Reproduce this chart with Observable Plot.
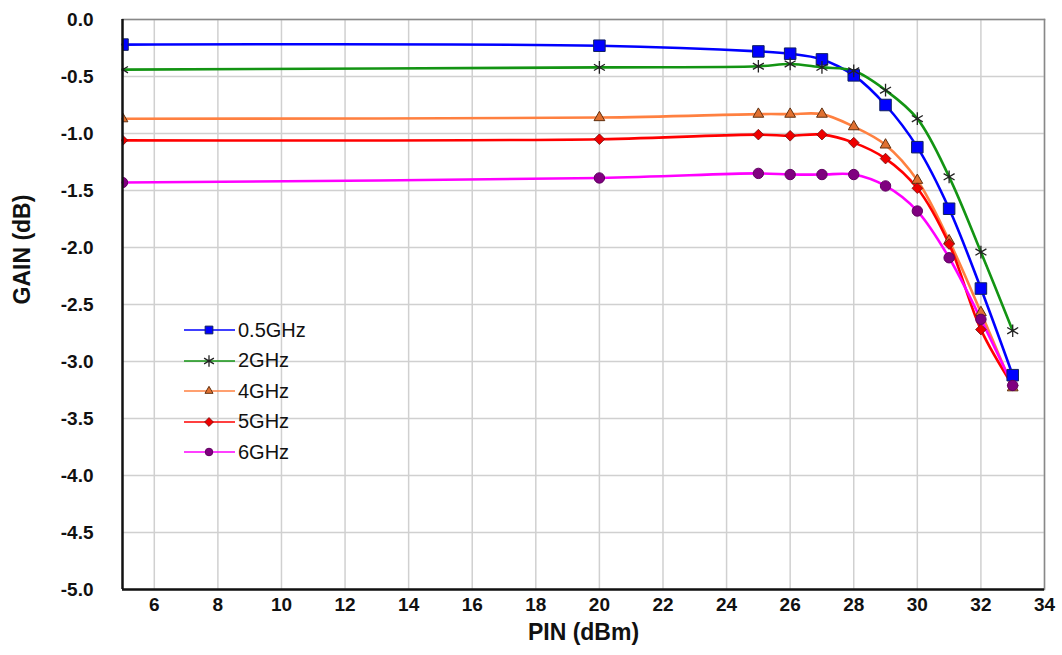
<!DOCTYPE html>
<html>
<head>
<meta charset="utf-8">
<script src="https://cdn.jsdelivr.net/npm/d3@7"></script>
<script src="https://cdn.jsdelivr.net/npm/@observablehq/plot@0.6"></script>
<style>
  html, body { margin: 0; padding: 0; background: #fff; }
  #wrap { position: relative; width: 1062px; height: 655px; font-family: "Liberation Sans", Arial, sans-serif; }
  #legend { position: absolute; left: 184px; top: 315px; }
  .row { display: flex; align-items: center; height: 30.5px; font-size: 20px; color: #111; }
  .row svg { display: block; margin-right: 2px; }
</style>
</head>
<body>
<div id="wrap"><div id="chart"></div><div id="legend"></div></div>
<script>
// ---- data ----
const pin = [5, 20, 25, 26, 27, 28, 29, 30, 31, 32, 33];
const seriesNames = ["0.5GHz", "2GHz", "4GHz", "5GHz", "6GHz"];
const gain05 = [-0.22, -0.23, -0.28, -0.30, -0.35, -0.49, -0.75, -1.12, -1.66, -2.36, -3.12];
const gain2  = [-0.44, -0.42, -0.41, -0.39, -0.42, -0.45, -0.62, -0.87, -1.38, -2.04, -2.73];
const gain4  = [-0.87, -0.86, -0.83, -0.83, -0.83, -0.94, -1.10, -1.41, -1.94, -2.57, -3.23];
const gain5  = [-1.06, -1.05, -1.01, -1.02, -1.01, -1.08, -1.22, -1.48, -1.97, -2.72, -3.21];
const gain6  = [-1.43, -1.39, -1.35, -1.36, -1.36, -1.36, -1.46, -1.68, -2.09, -2.63, -3.21];
const xTicks = [6, 8, 10, 12, 14, 16, 18, 20, 22, 24, 26, 28, 30, 32, 34];
const yTicks = [0, -0.5, -1, -1.5, -2, -2.5, -3, -3.5, -4, -4.5, -5];
const yTickLabels = ["0.0", "-0.5", "-1.0", "-1.5", "-2.0", "-2.5", "-3.0", "-3.5", "-4.0", "-4.5", "-5.0"];

// ---- styles ----
const styles = [
  {line: "#0000ff", fill: "#0000ff", stroke: "#102060", symbol: "square", r: 6.5, sw: 1},
  {line: "#139413", fill: "none", stroke: "#222", symbol: "asterisk", r: 6, sw: 1.3},
  {line: "#ff8040", fill: "#e07030", stroke: "#603010", symbol: "triangle", r: 4, sw: 1},
  {line: "#ff0000", fill: "#ee0000", stroke: "#701010", symbol: "diamond2", r: 4.8, sw: 0.8},
  {line: "#ff00ff", fill: "#800080", stroke: "#600060", symbol: "circle", r: 5.2, sw: 1}
];
const allGains = [gain05, gain2, gain4, gain5, gain6];
const table = seriesNames.map((name, i) => pin.map((p, j) => ({series: name, pin: p, gain: allGains[i][j], idx: i})));

const font = "'Liberation Sans', Arial, sans-serif";
const marks = [
  Plot.gridX(xTicks, {stroke: "#d0d0d0", strokeOpacity: 1, strokeWidth: 1.5}),
  Plot.gridY(yTicks, {stroke: "#d0d0d0", strokeOpacity: 1, strokeWidth: 1.5}),
  Plot.frame({anchor: "top", stroke: "#888", strokeWidth: 1.5}),
  Plot.frame({anchor: "right", stroke: "#888", strokeWidth: 1.5}),
  Plot.axisX(xTicks, {tickSize: 0, tickPadding: 8, fontSize: 19, fontWeight: "bold", label: null, fill: "#111"}),
  Plot.axisY(yTicks, {tickSize: 0, tickPadding: 29, fontSize: 19, fontWeight: "bold", label: null, fill: "#111",
    tickFormat: (d) => yTickLabels[yTicks.indexOf(d)]}),
  Plot.text(["PIN (dBm)"], {frameAnchor: "bottom", dy: 50, fontSize: 23, fontWeight: "bold", fill: "#111"}),
  Plot.text(["GAIN (dB)"], {frameAnchor: "left", dx: -100, rotate: -90, fontSize: 23, fontWeight: "bold", fill: "#111"})
];
table.forEach((rows, i) => {
  const s = styles[i];
  marks.push(Plot.line(rows, {x: "pin", y: "gain", stroke: s.line, strokeWidth: 2.6, curve: "catmull-rom"}));
});
table.forEach((rows, i) => {
  const s = styles[i];
  marks.push(Plot.dot(rows, {x: "pin", y: "gain", symbol: () => s.symbol, r: s.r, fill: s.fill, stroke: s.stroke, strokeWidth: s.sw, clip: true}));
});
marks.push(Plot.ruleX([5], {stroke: "#111", strokeWidth: 2.5}));
marks.push(Plot.ruleY([-5], {stroke: "#111", strokeWidth: 2.5}));

const chart = Plot.plot({
  width: 1062,
  height: 655,
  marginLeft: 122,
  marginRight: 18,
  marginTop: 19,
  marginBottom: 66,
  style: {fontFamily: font, background: "#fff", overflow: "visible"},
  x: {domain: [5, 34]},
  y: {domain: [-5, 0]},
  symbol: {type: "identity"},
  marks
});
document.getElementById("chart").appendChild(chart);

// ---- legend (HTML overlay with sample line + marker) ----
const legend = document.getElementById("legend");
const symMap = {square: d3.symbolSquare, asterisk: d3.symbolAsterisk, triangle: d3.symbolTriangle, diamond2: d3.symbolDiamond2, circle: d3.symbolCircle};
const symSize = {square: 60, asterisk: 90, triangle: 28, diamond2: 50, circle: 45};
seriesNames.forEach((name, i) => {
  const s = styles[i];
  const row = document.createElement("div");
  row.className = "row";
  const path = d3.symbol(symMap[s.symbol], symSize[s.symbol])();
  row.innerHTML = `<svg width="52" height="20"><line x1="0" x2="51" y1="10" y2="10" stroke="${s.line}" stroke-width="1.6"/>` +
    `<path d="${path}" transform="translate(25,10)" fill="${s.fill}" stroke="${s.stroke}" stroke-width="${s.sw}"/></svg>` +
    `<span>${name}</span>`;
  legend.appendChild(row);
});
</script>
</body>
</html>
